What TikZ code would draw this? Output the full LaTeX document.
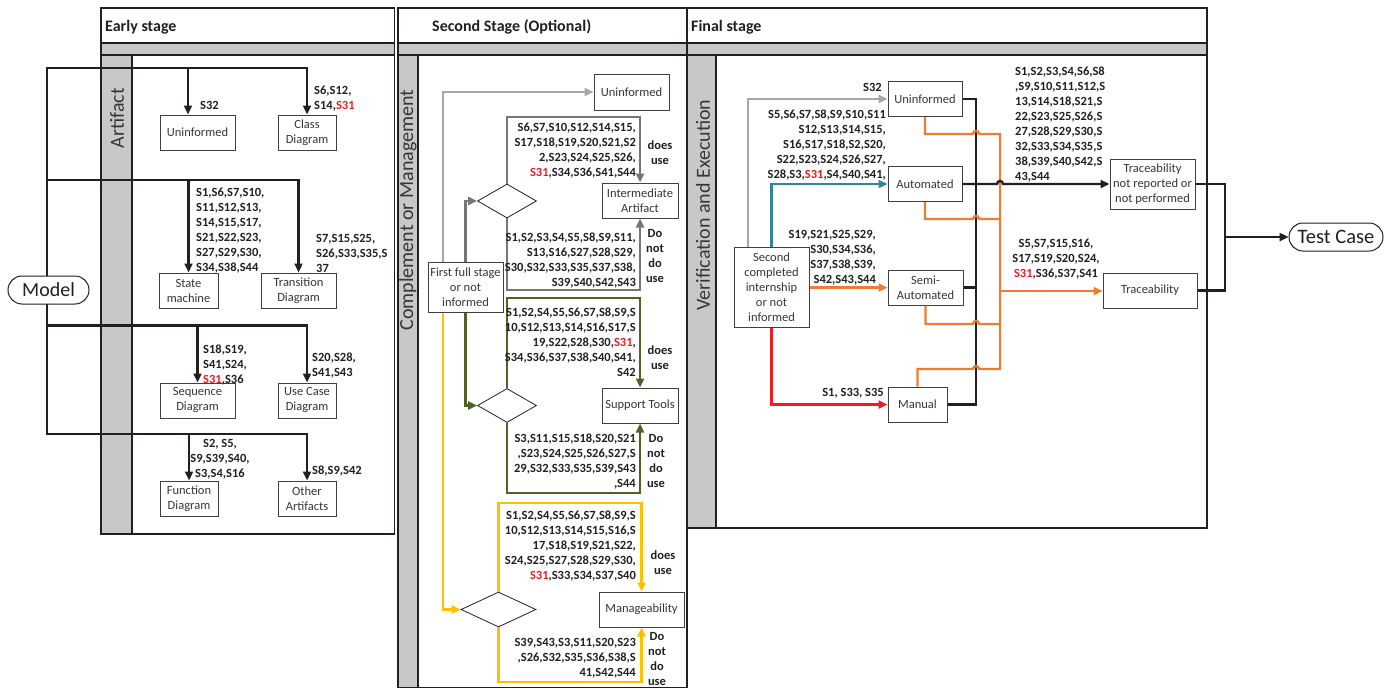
\documentclass[tikz,border=0pt]{standalone}
\usepackage{fontspec}
\setmainfont{Carlito}
\usetikzlibrary{arrows.meta,shapes.geometric}

\definecolor{ink}{HTML}{231F20}
\definecolor{boxline}{HTML}{404040}
\definecolor{lanegray}{HTML}{C8C8C8}
\definecolor{palepath}{HTML}{A6A6A6}
\definecolor{slatepath}{HTML}{767676}
\definecolor{olivepath}{HTML}{4F6228}
\definecolor{amberpath}{HTML}{FFC000}
\definecolor{tealpath}{HTML}{31859C}
\definecolor{orangepath}{HTML}{EE7D31}
\definecolor{redpath}{HTML}{EE1C24}
\definecolor{hot}{HTML}{EE1C24}

\newcommand\dglbl{\fontsize{12.5}{15}\selectfont\bfseries}
\newcommand\dgnode{\fontsize{12.5}{15}\selectfont}
\newcommand\dghead{\fontsize{16}{19}\selectfont\bfseries}
\newcommand\dglane{\fontsize{20}{24}\selectfont}
\newcommand\sred{\textcolor{hot}{S31}}

\tikzset{
  nbox/.style={draw=boxline, line width=1pt, fill=white, inner sep=1pt,
    align=center, font=\dgnode, text=ink!90},
  dia/.style={diamond, draw=ink, line width=0.8pt, fill=white, inner sep=0pt},
  lbl/.style={inner sep=0pt, font=\dglbl, text=ink},
  lanebox/.style={draw=ink, line width=1.6pt},
  laneline/.style={draw=ink, line width=1.1pt},
  arr/.style={-{Triangle[length=9pt,width=8pt]}},
  inkflow/.style={draw=ink, line width=2.8pt},
  paleflow/.style={draw=palepath, line width=2.5pt},
  slateflow/.style={draw=slatepath, line width=2.8pt},
  oliveflow/.style={draw=olivepath, line width=2.8pt},
  amberflow/.style={draw=amberpath, line width=2.5pt},
  tealflow/.style={draw=tealpath, line width=2.4pt},
  orangeflow/.style={draw=orangepath, line width=2.4pt},
  redflow/.style={draw=redpath, line width=2.4pt},
  blackflow/.style={draw=ink, line width=2.4pt},
  lanetitle/.style={rotate=90, font=\dglane, text=ink!90, inner sep=0pt},
  headtitle/.style={anchor=base west, font=\dghead, text=ink, inner sep=0pt},
}

\begin{document}
\begin{tikzpicture}[x=1pt,y=-1pt]
\useasboundingbox (0,0) rectangle (1392,688);

% ---------- swimlane frames ----------
% early stage
\fill[lanegray] (101,43) rectangle (394.5,55);
\fill[lanegray] (101,55) rectangle (132,534);
\draw[laneline] (101,43) -- (394.5,43) (101,55) -- (394.5,55) (132,55) -- (132,534);
\draw[lanebox] (101,8) rectangle (394.5,534);
\node[headtitle] at (105,31.5) {Early stage};
\node[lanetitle] at (117,118) {Artifact};

% second stage
\fill[lanegray] (398,43) rectangle (687,55);
\fill[lanegray] (398,55) rectangle (418,687.5);
\draw[laneline] (398,43) -- (687,43) (398,55) -- (687,55) (418,55) -- (418,687.5);
\draw[lanebox] (398,8) rectangle (687,687.5);
\node[headtitle] at (432,31.5) {Second Stage (Optional)};
\node[lanetitle] at (408,210) {Complement or Management};

% final stage
\fill[lanegray] (687,43) rectangle (1207,55);
\fill[lanegray] (687,55) rectangle (716,528);
\draw[laneline] (687,43) -- (1207,43) (687,55) -- (1207,55) (716,55) -- (716,528);
\draw[lanebox] (687,8) rectangle (1207,528);
\node[headtitle] at (691,31.5) {Final stage};
\node[lanetitle] at (703,205) {Verification and Execution};

% ---------- early stage ----------
\node[nbox, minimum width=75, minimum height=35] (eUnin) at (197.5,132.5) {Uninformed};
\node[nbox, minimum width=58, minimum height=35] (eClass) at (307,132.5) {Class\\Diagram};
\node[nbox, minimum width=59, minimum height=35] (eState) at (188.5,290.5) {State\\machine};
\node[nbox, minimum width=75, minimum height=35] (eTrans) at (298.5,290.5) {Transition\\Diagram};
\node[nbox, minimum width=75, minimum height=35] (eSeq) at (197.5,400.5) {Sequence\\Diagram};
\node[nbox, minimum width=58, minimum height=35] (eUse) at (307,400.5) {Use Case\\Diagram};
\node[nbox, minimum width=58, minimum height=35] (eFunc) at (189,498.5) {Function\\Diagram};
\node[nbox, minimum width=58, minimum height=35] (eOther) at (307,498.5) {Other\\Artifacts};

\coordinate (eT1) at (47,68);
\coordinate (eT2) at (47,180);
\coordinate (eT3) at (47,325.5);
\coordinate (eT4) at (47,434);
\coordinate (eD1) at (188,68);

\draw[inkflow,arr] (eT4) -- (eT1) -| (eClass.north);
\draw[inkflow,arr] (eT3) -- (eT4) -| (eOther.north);
\draw[inkflow,arr] (eD1) -- (eD1 |- eUnin.north);
\draw[inkflow,arr] (eT2) -| (eTrans.north);
\draw[inkflow,arr] (eT2 -| eState.north) -- (eState.north);
\draw[inkflow,arr] (eT3) -| (eUse.north);
\draw[inkflow,arr] (eT3 -| eSeq.north) -- (eSeq.north);
\draw[inkflow,arr] (eT4 -| eFunc.north) -- (eFunc.north);

\node[draw=ink, line width=1pt, fill=white, rounded corners=14, minimum width=81,
  minimum height=28, inner sep=0pt, font=\dglane, text=ink] (model) at (48.5,290) {Model};

\node[lbl, anchor=north west] at (200,101) {S32};
\node[lbl, anchor=north west, align=left] at (314,86) {S6,S12,\\S14,\sred};
\node[lbl, anchor=north west, align=left] at (196,188) {S1,S6,S7,S10,\\S11,S12,S13,\\S14,S15,S17,\\S21,S22,S23,\\S27,S29,S30,\\S34,S38,S44};
\node[lbl, anchor=north west, align=left] at (316,234) {S7,S15,S25,\\S26,S33,S35,S\\37};
\node[lbl, anchor=north west, align=left] at (203,345) {S18,S19,\\S41,S24,\\\sred,S36};
\node[lbl, anchor=north west, align=left] at (312,353) {S20,S28,\\S41,S43};
\node[lbl, anchor=north, align=center] at (220,439) {S2, S5,\\S9,S39,S40,\\S3,S4,S16};
\node[lbl, anchor=north west] at (312,466) {S8,S9,S42};

% ---------- second stage ----------
\node[nbox, minimum width=75, minimum height=36] (sUnin) at (631.5,92) {Uninformed};
\node[nbox, minimum width=75, minimum height=50] (sFirst) at (465.5,287.5) {First full stage\\or not\\informed};
\node[dia, minimum width=59, minimum height=34] (sDia1) at (507,201) {};
\node[nbox, minimum width=76, minimum height=35] (sInter) at (640,200.5) {Intermediate\\Artifact};
\node[dia, minimum width=59, minimum height=34] (sDia2) at (507,405.5) {};
\node[nbox, minimum width=76, minimum height=35] (sSupp) at (640,405.5) {Support Tools};
\node[dia, minimum width=75, minimum height=35] (sDia3) at (498.5,609.5) {};
\node[nbox, minimum width=85, minimum height=35] (sManag) at (641.5,609.5) {Manageability};

\draw[paleflow,arr] ([xshift=-22.5]sFirst.north) |- (sUnin.west);
\draw[slateflow,arr] (sFirst.north) |- (sDia1.west);
\draw[slateflow,arr] (sDia1.north) -- (sDia1.north |- 0,117) -| (sInter.north);
\draw[slateflow,arr] (sDia1.south) -- (sDia1.south |- 0,290) -| (sInter.south);
\draw[oliveflow,arr] (sFirst.south) |- (sDia2.west);
\draw[oliveflow,arr] (sDia2.north) -- (sDia2.north |- 0,298) -| (sSupp.north);
\draw[oliveflow,arr] (sDia2.south) -- (sDia2.south |- 0,493) -| (sSupp.south);
\draw[amberflow,arr] ([xshift=-22.5]sFirst.south) |- (sDia3.west);
\draw[amberflow,arr] (sDia3.north) -- (sDia3.north |- 0,503) -| (sManag.north);
\draw[amberflow,arr] (sDia3.south) -- (sDia3.south |- 0,682) -| (sManag.south);

\node[lbl, anchor=north east, align=right] at (636,123) {S6,S7,S10,S12,S14,S15,\\S17,S18,S19,S20,S21,S2\\2,S23,S24,S25,S26,\\\sred,S34,S36,S41,S44};
\node[lbl, anchor=north, align=center] at (660,141) {does\\use};
\node[lbl, anchor=north east, align=right] at (636,233) {S1,S2,S3,S4,S5,S8,S9,S11,\\S13,S16,S27,S28,S29,\\S30,S32,S33,S35,S37,S38,\\S39,S40,S42,S43};
\node[lbl, anchor=north, align=center] at (655,229) {Do\\not\\do\\use};

\node[lbl, anchor=north east, align=right] at (636,308) {S1,S2,S4,S5,S6,S7,S8,S9,S\\10,S12,S13,S14,S16,S17,S\\19,S22,S28,S30,\sred,\\S34,S36,S37,S38,S40,S41,\\S42};
\node[lbl, anchor=north, align=center] at (660,346) {does\\use};
\node[lbl, anchor=north east, align=right] at (636,434) {S3,S11,S15,S18,S20,S21\\,S23,S24,S25,S26,S27,S\\29,S32,S33,S35,S39,S43\\,S44};
\node[lbl, anchor=north, align=center] at (656,434) {Do\\not\\do\\use};

\node[lbl, anchor=north east, align=right] at (636,511) {S1,S2,S4,S5,S6,S7,S8,S9,S\\10,S12,S13,S14,S15,S16,S\\17,S18,S19,S21,S22,\\S24,S25,S27,S28,S29,S30,\\\sred,S33,S34,S37,S40};
\node[lbl, anchor=north, align=center] at (663,551) {does\\use};
\node[lbl, anchor=north east, align=right] at (636,638) {S39,S43,S3,S11,S20,S23\\,S26,S32,S35,S36,S38,S\\41,S42,S44};
\node[lbl, anchor=north, align=center] at (657,632) {Do\\not\\do\\use};

% ---------- final stage ----------
\node[nbox, minimum width=74, minimum height=35] (fUnin) at (925,99) {Uninformed};
\node[nbox, minimum width=74, minimum height=35] (fAuto) at (925,184) {Automated};
\node[nbox, minimum width=75, minimum height=35] (fSemi) at (925.5,287.5) {Semi-\\Automated};
\node[nbox, minimum width=59, minimum height=35] (fManual) at (917.5,404.5) {Manual};
\node[nbox, minimum width=75, minimum height=80] (fSecond) at (771.5,287.5) {Second\\completed\\internship\\or not\\informed};
\node[nbox, minimum width=85, minimum height=50] (fTrnr) at (1152.5,184) {Traceability\\not reported or\\not performed};
\node[nbox, minimum width=94, minimum height=35] (fTrace) at (1150,290.5) {Traceability};
\node[draw=ink, line width=1pt, fill=white, rounded corners=14, minimum width=94,
  minimum height=28, inner sep=0pt, font=\fontsize{20.5}{24}\selectfont, text=ink] (tc) at (1336,237) {Test Case};

\draw[paleflow,arr] ([xshift=-23.5]fSecond.north) |- (fUnin.west);
\draw[tealflow,arr] (fSecond.north) |- (fAuto.west);
\draw[orangeflow,arr] (fSecond.east) -- (fSemi.west);
\draw[redflow,arr] (fSecond.south) |- (fManual.west);

% black collector bus
\coordinate (fBus) at (976,99);
\coordinate (fBusEnd) at (976,404.5);
\draw[blackflow] (fUnin.east) -- (fBus) -- (fBusEnd) -- (fManual.east);
\draw[blackflow] (fSemi.east) -- (fSemi.east -| fBus);

% orange collector bus (hops over the black bus)
\draw[orangeflow] (fUnin.south) |- (973,134) .. controls (973,130) and (979,130) .. (979,134)
  -- (1000,134) -- (1000,369) -- (979,369) .. controls (979,365) and (973,365) .. (973,369)
  -| (fManual.north);
\draw[orangeflow] (fAuto.south) |- (973,219) .. controls (973,215) and (979,215) .. (979,219) -- (1000,219);
\draw[orangeflow] (fSemi.south) |- (973,324) .. controls (973,320) and (979,320) .. (979,324) -- (1000,324);
\coordinate (fOrOut) at (1000,291);
\draw[orangeflow, line width=2.9pt, arr] (fOrOut) -- (fTrace.west |- fOrOut);

\draw[blackflow,arr] (fAuto.east) -- (997,184) .. controls (997,180) and (1003,180) .. (1003,184) -- (fTrnr.west);

% outputs joined into the test case
\coordinate (fJoin) at (1225,237);
\draw[blackflow] (fTrnr.east) -| (fJoin) |- (fTrace.east);
\draw[blackflow,arr] (fJoin) -- (tc.west);

\node[lbl, anchor=north east] at (882,83) {S32};
\node[lbl, anchor=north east, align=right] at (886,110) {S5,S6,S7,S8,S9,S10,S11\\S12,S13,S14,S15,\\S16,S17,S18,S2,S20,\\S22,S23,S24,S26,S27,\\S28,S3,\sred,S4,S40,S41,};
\node[lbl, anchor=north east, align=right] at (876,230) {S19,S21,S25,S29,\\S30,S34,S36,\\S37,S38,S39,\\S42,S43,S44};
\node[lbl, anchor=north east] at (884,388) {S1, S33, S35};
\node[lbl, anchor=north west, align=left] at (1015,67) {S1,S2,S3,S4,S6,S8\\,S9,S10,S11,S12,S\\13,S14,S18,S21,S\\22,S23,S25,S26,S\\27,S28,S29,S30,S\\32,S33,S34,S35,S\\38,S39,S40,S42,S\\43,S44};
\node[lbl, anchor=north, align=center] at (1056,239) {S5,S7,S15,S16,\\S17,S19,S20,S24,\\\sred,S36,S37,S41};

\end{tikzpicture}
\end{document}
